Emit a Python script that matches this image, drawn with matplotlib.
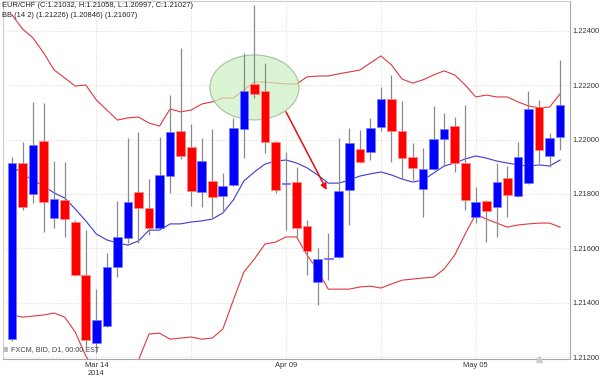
import matplotlib
matplotlib.use("Agg")
import matplotlib.pyplot as plt
from matplotlib.patches import Ellipse, Rectangle
import numpy as np

plt.rcParams['font.family'] = ['Liberation Sans', 'DejaVu Sans']

# ---------------- data ----------------
opens = [1.21266, 1.21914, 1.21800, 1.21995, 1.21712, 1.21778, 1.21697, 1.21502, 1.21251, 1.21314,
         1.21531, 1.21638, 1.21807, 1.21748, 1.21675, 1.21866, 1.22032, 1.21973, 1.21807, 1.21848,
         1.21793, 1.21833, 1.22039, 1.22205, 1.22179, 1.21991, 1.21838, 1.21844, 1.21682, 1.21476,
         1.21562, 1.21568, 1.21815, 1.21966, 1.21955, 1.22047, 1.22150, 1.22032, 1.21936, 1.21818,
         1.21892, 1.22002, 1.22050, 1.21914, 1.21715, 1.21774, 1.21752, 1.21859, 1.21793, 1.21840,
         1.22120, 1.21940, 1.22010]
highs = [1.21936, 1.21991, 1.22139, 1.22135, 1.21921, 1.21918, 1.21704, 1.21667, 1.21450, 1.21583,
         1.21774, 1.22006, 1.22028, 1.21855, 1.22010, 1.22164, 1.22337, 1.22058, 1.22006, 1.22039,
         1.21877, 1.22080, 1.22319, 1.22496, 1.22282, 1.21995, 1.21955, 1.21899, 1.21704, 1.21601,
         1.21656, 1.22006, 1.22043, 1.22036, 1.22080, 1.22194, 1.22238, 1.22142, 1.21988, 1.21969,
         1.22124, 1.22098, 1.22083, 1.22128, 1.21826, 1.21778, 1.21914, 1.21903, 1.21991, 1.22179,
         1.22146, 1.22024, 1.22293]
lows = [1.21259, 1.21741, 1.21767, 1.21660, 1.21675, 1.21642, 1.21498, 1.21237, 1.21215, 1.21310,
        1.21494, 1.21620, 1.21620, 1.21649, 1.21671, 1.21804, 1.21929, 1.21756, 1.21752, 1.21715,
        1.21734, 1.21830, 1.21932, 1.22153, 1.21951, 1.21804, 1.21667, 1.21642, 1.21502, 1.21391,
        1.21483, 1.21565, 1.21686, 1.21915, 1.21925, 1.22032, 1.21918, 1.21855, 1.21851, 1.21715,
        1.21888, 1.21903, 1.21881, 1.21741, 1.21693, 1.21623, 1.21642, 1.21715, 1.21790, 1.21838,
        1.21914, 1.21899, 1.21962]
closes = [1.21914, 1.21752, 1.21980, 1.21770, 1.21782, 1.21708, 1.21502, 1.21262, 1.21336, 1.21531,
          1.21642, 1.21770, 1.21748, 1.21675, 1.21870, 1.22028, 1.21940, 1.21811, 1.21921, 1.21789,
          1.21829, 1.22043, 1.22179, 1.22168, 1.21991, 1.21815, 1.21842, 1.21675, 1.21590, 1.21561,
          1.21566, 1.21811, 1.21988, 1.21918, 1.22043, 1.22150, 1.22032, 1.21932, 1.21896, 1.21892,
          1.22002, 1.22039, 1.21914, 1.21778, 1.21770, 1.21737, 1.21844, 1.21796, 1.21936, 1.22113,
          1.21962, 1.22006, 1.22128]

bb_upper = [1.22459, 1.22407, 1.22374, 1.22319, 1.22256, 1.22227, 1.22197, 1.22201, 1.22146, 1.22109,
            1.22072, 1.22080, 1.22083, 1.22061, 1.22050, 1.22113, 1.22102, 1.22109, 1.22131, 1.22139,
            1.22153, 1.22153, 1.22183, 1.22212, 1.22212, 1.22208, 1.22205, 1.22205, 1.22231, 1.22234,
            1.22234, 1.22242, 1.22249, 1.22256, 1.22282, 1.22308, 1.22275, 1.22223, 1.22208, 1.22220,
            1.22238, 1.22253, 1.22238, 1.22201, 1.22157, 1.22164, 1.22157, 1.22157, 1.22139, 1.22124,
            1.22117, 1.22120, 1.22168]
bb_middle = [1.21903, 1.21874, 1.21851, 1.21829, 1.21804, 1.21785, 1.21745, 1.21701, 1.21653, 1.21631,
             1.21620, 1.21612, 1.21627, 1.21667, 1.21667, 1.21690, 1.21690, 1.21697, 1.21701, 1.21708,
             1.21730, 1.21778, 1.21848, 1.21881, 1.21910, 1.21921, 1.21925, 1.21914, 1.21896, 1.21870,
             1.21840, 1.21840, 1.21851, 1.21866, 1.21874, 1.21881, 1.21870, 1.21855, 1.21844, 1.21851,
             1.21877, 1.21903, 1.21914, 1.21929, 1.21940, 1.21932, 1.21921, 1.21914, 1.21907, 1.21903,
             1.21907, 1.21903, 1.21925]
bb_lower = [1.21355, 1.21347, 1.21351, 1.21355, 1.21362, 1.21347, 1.21292, 1.21204, 1.21145, 1.21123,
            1.21123, 1.21145, 1.21189, 1.21285, 1.21288, 1.21266, 1.21270, 1.21274, 1.21266, 1.21270,
            1.21303, 1.21410, 1.21513, 1.21561, 1.21616, 1.21623, 1.21642, 1.21642, 1.21575, 1.21520,
            1.21450, 1.21450, 1.21450, 1.21458, 1.21461, 1.21454, 1.21469, 1.21483, 1.21487, 1.21491,
            1.21494, 1.21524, 1.21575, 1.21653, 1.21726, 1.21708, 1.21693, 1.21678, 1.21686, 1.21690,
            1.21693, 1.21693, 1.21678]

xtick_pos = [8, 26, 44]
xtick_labels = ["Mar 14\n2014", "Apr 09", "May 05"]
xgrid_pos = [8, 17, 26, 35, 44]
ytick_vals = [1.212, 1.214, 1.216, 1.218, 1.220, 1.222, 1.224]

title_line1 = "EUR/CHF (C:1.21032, H:1.21058, L:1.20997, C:1.21027)"
title_line2 = "BB (14 2) (1.21226) (1.20846) (1.21607)"
footer = "FXCM, BID, D1, 00:00 EST"

# ---------------- figure ----------------
W, H = 600, 378
fig = plt.figure(figsize=(W / 100, H / 100), dpi=100)
ax = fig.add_axes([3 / W, 19 / H, 567 / W, 358 / H])

n = len(opens)
x = np.arange(n)
o = np.array(opens); c = np.array(closes); hi = np.array(highs); lo = np.array(lows)
up = c >= o

ax.set_xlim(-0.854, 52.94)
ax.set_ylim(1.21193, 1.22510)

# grid
for v in ytick_vals:
    ax.axhline(v, color='#cfcfcf', lw=0.6, ls=(0, (1, 2)), zorder=0)
for v in xgrid_pos:
    ax.axvline(v, color='#cfcfcf', lw=0.6, ls=(0, (1, 2)), zorder=0)

# bands
ax.plot(x, bb_upper, color='#e0383c', lw=0.8, zorder=2)
ax.plot(x, bb_lower, color='#e0383c', lw=0.8, zorder=2)
ax.plot(x, bb_middle, color='#3a3ad8', lw=0.8, zorder=2)

# annotation ellipse (behind candles, over the bands)
ell = Ellipse((23.0, 1.22192), 8.45, 0.00239, facecolor='#cdf2c2', edgecolor='#86a880',
              lw=0.8, alpha=0.7, zorder=2.5)
ax.add_patch(ell)

# wicks
ax.vlines(x, lo, hi, color='#8a8a8a', lw=0.9, zorder=3)

# bodies
body_bottom = np.minimum(o, c)
body_h = np.maximum(np.abs(c - o), 0.00003)
colors = np.where(up, '#0000ff', '#ff0000')
edges = np.where(up, '#7a7aff', '#ff8a8a')
ax.bar(x, body_h, bottom=body_bottom, width=0.82, color=colors, edgecolor=edges,
       linewidth=0.5, zorder=4)

# arrow
ax.annotate("", xy=(29.85, 1.21815), xytext=(26.0, 1.22102),
            arrowprops=dict(arrowstyle='-|>', color='#e01010', lw=1.1,
                            mutation_scale=9, shrinkA=0, shrinkB=0), zorder=6)

# current-candle marker
ax.plot([50], [1.21193], marker='^', color='#cccccc', ms=5, clip_on=False, zorder=6)

# axes styling
for s in ['left', 'top']:
    ax.spines[s].set_color('#cccccc')
    ax.spines[s].set_linewidth(0.8)
for s in ['bottom', 'right']:
    ax.spines[s].set_color('#a8a8a8')
    ax.spines[s].set_linewidth(0.8)

ax.yaxis.tick_right()
ax.set_yticks(ytick_vals)
ax.set_yticklabels([f"{v:.5f}" for v in ytick_vals])
ax.tick_params(axis='y', length=0, pad=2, labelsize=5.4, labelcolor='#333333')
ax.set_xticks(xtick_pos)
ax.set_xticklabels(xtick_labels)
ax.tick_params(axis='x', length=0, pad=2, labelsize=5.4, labelcolor='#333333')

# header text
fig.text(2 / W, 1 - 5.5 / H, title_line1, fontsize=5.4, color='#222222', va='center', ha='left')
fig.text(2 / W, 1 - 15.5 / H, title_line2, fontsize=5.4, color='#222222', va='center', ha='left')

# footer
fig.patches.append(Rectangle((4 / W, 1 - 352 / H), 4 / W, 5 / H, transform=fig.transFigure,
                             facecolor='#bbbbbb', edgecolor='none', zorder=7))
fig.text(11 / W, 1 - 349.5 / H, footer, fontsize=5.2, color='#444444', va='center', ha='left')

fig.savefig("out.png", dpi=100, facecolor='white')
